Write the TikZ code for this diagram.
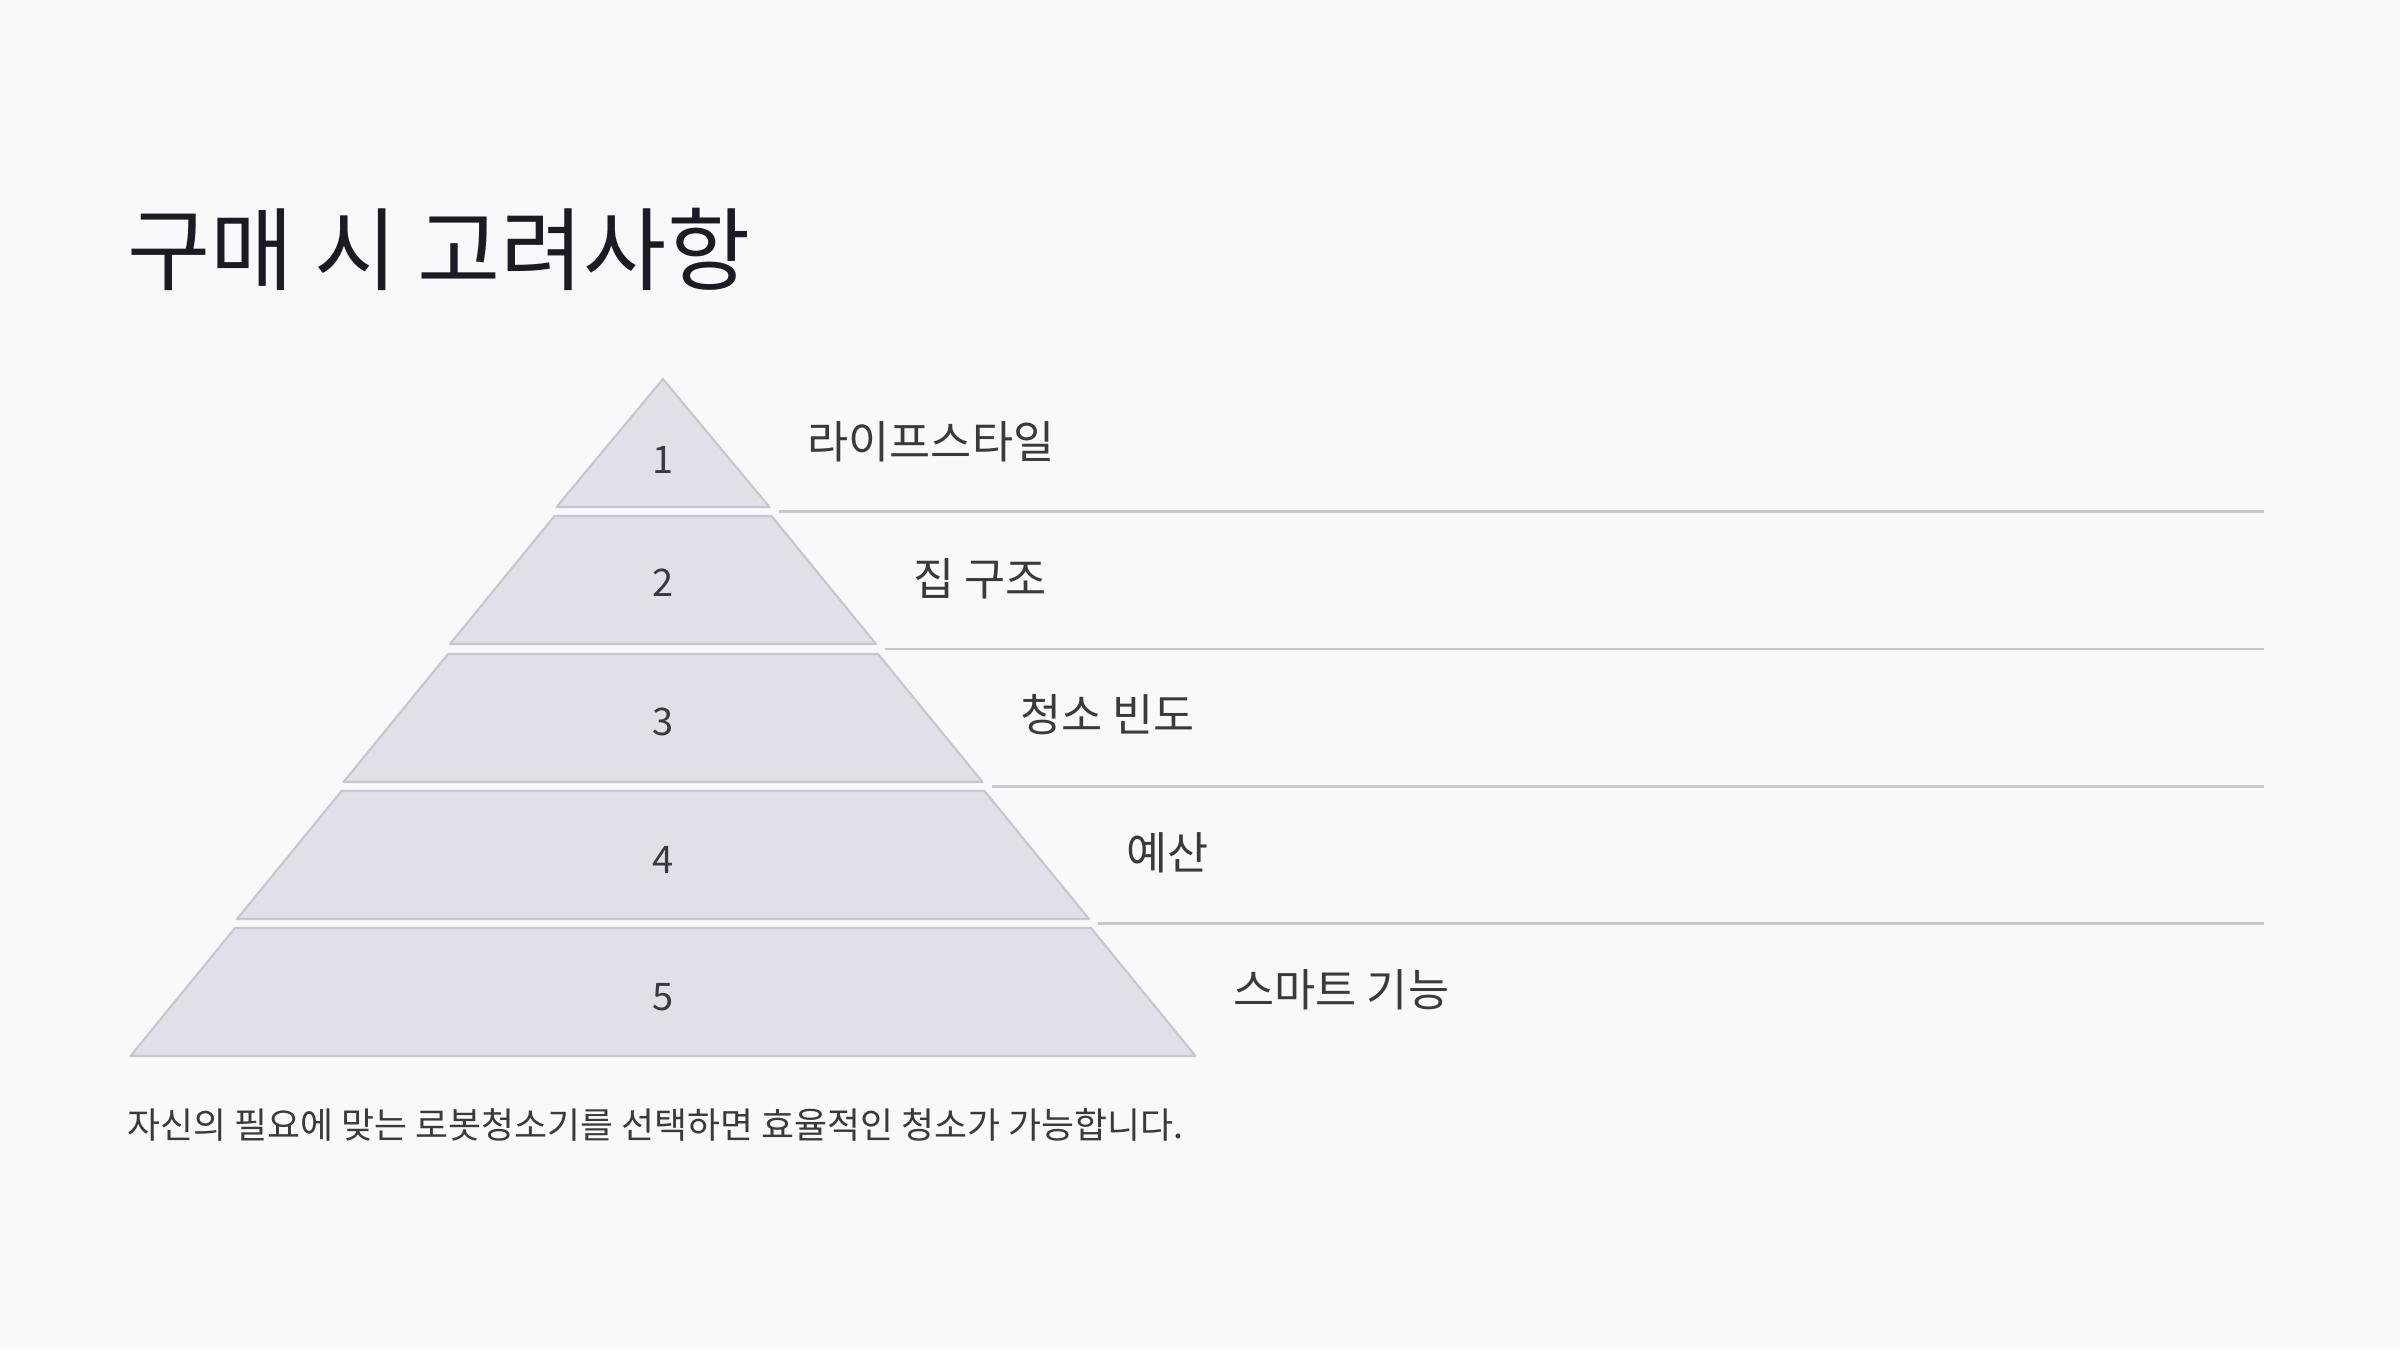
\documentclass[tikz,border=0pt]{standalone}
\usepackage{fontspec}
\setmainfont{Noto Sans CJK KR}
\usepackage{tikz}
\definecolor{paper}{HTML}{F9F9FB}
\definecolor{tierfill}{HTML}{E0E1E8}
\definecolor{tierline}{HTML}{C6C7CF}
\definecolor{titleink}{HTML}{1C1B25}
\definecolor{bodyink}{HTML}{3A3A3A}
\tikzset{
  tier/.style={fill=tierfill, draw=tierline, line width=0.6pt, line join=round},
  sepline/.style={draw=tierline, line width=0.6pt},
  tiernum/.style={text=bodyink, inner sep=0pt, font=\fontsize{10.8}{13}\selectfont},
  tierlabel/.style={text=bodyink, inner sep=0pt, anchor=west, font=\fontsize{12.7}{15}\selectfont}
}

\begin{document}
\begin{tikzpicture}[x=0.01cm, y=-0.01cm]
        \fill[paper] (0,0) rectangle (2400,1350);
        \useasboundingbox (0,0) rectangle (2400,1350);

        \node[anchor=west, inner sep=0pt, text=titleink, font=\fontsize{25.7}{30}\selectfont] (title) at (127,249) {구매 시 고려사항};

        \draw[tier] (663,379) -- (769.5,507) -- (556.5,507) -- cycle;
        \draw[tier] (554.5,516) -- (771.5,516) -- (876,644) -- (450,644) -- cycle;
        \draw[tier] (448,654) -- (878,654) -- (982.5,782) -- (343.5,782) -- cycle;
        \draw[tier] (341.5,791) -- (984.5,791) -- (1089,919) -- (237,919) -- cycle;
        \draw[tier] (235,928) -- (1091,928) -- (1195.5,1056) -- (130.5,1056) -- cycle;

        \node[tiernum] (num1) at (663,460) {1};
        \node[tiernum] (num2) at (663,583) {2};
        \node[tiernum] (num3) at (663,722) {3};
        \node[tiernum] (num4) at (663,860) {4};
        \node[tiernum] (num5) at (663,997) {5};

        \node[tierlabel] (lab1) at (807,442) {라이프스타일};
        \node[tierlabel] (lab2) at (913,579) {집 구조};
        \node[tierlabel] (lab3) at (1020,715) {청소 빈도};
        \node[tierlabel] (lab4) at (1126,853) {예산};
        \node[tierlabel] (lab5) at (1233,990) {스마트 기능};

        \draw[sepline] (778.5,511.5) -- (2264,511.5);
        \draw[sepline] (885,649) -- (2264,649);
        \draw[sepline] (991.5,786.5) -- (2264,786.5);
        \draw[sepline] (1098,923.5) -- (2264,923.5);

        \node[anchor=west, inner sep=0pt, text=bodyink, font=\fontsize{10.2}{12}\selectfont] (note) at (127,1125) {자신의 필요에 맞는 로봇청소기를 선택하면 효율적인 청소가 가능합니다.};
\end{tikzpicture}
\end{document}
